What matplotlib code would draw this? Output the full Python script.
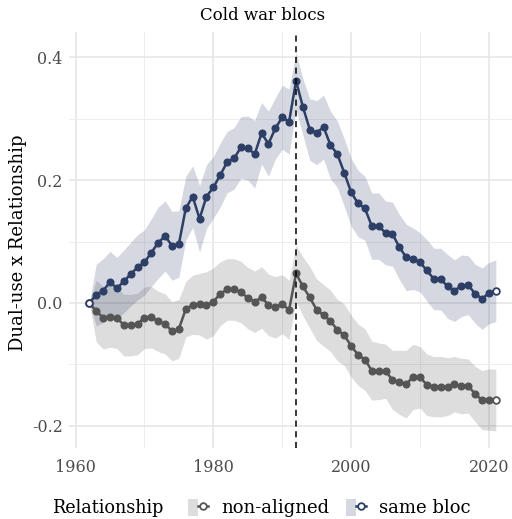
import matplotlib
matplotlib.use("Agg")
import matplotlib.pyplot as plt
import numpy as np
from matplotlib.patches import Patch
from matplotlib.lines import Line2D
from matplotlib.legend_handler import HandlerTuple

plt.rcParams['font.family'] = ['DejaVu Serif']

# --- data -------------------------------------------------------------
years = np.arange(1962, 2022)

same_bloc = np.array([
    0.000, 0.013, 0.020, 0.034, 0.024, 0.035, 0.047, 0.058, 0.066, 0.082,
    0.098, 0.109, 0.093, 0.096, 0.154, 0.173, 0.137, 0.173, 0.188, 0.208,
    0.229, 0.235, 0.253, 0.252, 0.242, 0.276, 0.259, 0.284, 0.302, 0.295,
    0.361, 0.319, 0.282, 0.277, 0.286, 0.257, 0.242, 0.212, 0.180, 0.162,
    0.154, 0.125, 0.125, 0.114, 0.112, 0.091, 0.074, 0.072, 0.066, 0.053,
    0.039, 0.039, 0.027, 0.020, 0.028, 0.029, 0.015, 0.007, 0.016, 0.020])

same_bloc_ci = np.array([
    0.000, 0.050, 0.052, 0.050, 0.050, 0.051, 0.052, 0.053, 0.053, 0.055,
    0.058, 0.057, 0.056, 0.054, 0.052, 0.050, 0.054, 0.052, 0.050, 0.052,
    0.050, 0.050, 0.050, 0.052, 0.055, 0.050, 0.053, 0.050, 0.052, 0.053,
    0.046, 0.046, 0.050, 0.052, 0.052, 0.055, 0.054, 0.055, 0.055, 0.054,
    0.052, 0.054, 0.054, 0.052, 0.052, 0.053, 0.054, 0.050, 0.048, 0.050,
    0.050, 0.050, 0.052, 0.050, 0.050, 0.048, 0.048, 0.050, 0.050, 0.050])

non_aligned = np.array([
    0.000, -0.013, -0.024, -0.022, -0.024, -0.036, -0.036, -0.034, -0.024, -0.023,
    -0.030, -0.034, -0.046, -0.042, -0.010, -0.003, -0.002, -0.004, 0.002, 0.015,
    0.022, 0.022, 0.018, 0.008, 0.002, 0.009, -0.003, -0.007, -0.002, -0.011,
    0.048, 0.027, 0.009, -0.011, -0.020, -0.029, -0.044, -0.052, -0.070, -0.084,
    -0.092, -0.110, -0.111, -0.111, -0.125, -0.129, -0.132, -0.120, -0.121, -0.133,
    -0.136, -0.136, -0.136, -0.132, -0.135, -0.135, -0.148, -0.158, -0.157, -0.158])

non_aligned_ci = np.array([
    0.000, 0.050, 0.051, 0.050, 0.050, 0.050, 0.050, 0.050, 0.050, 0.050,
    0.049, 0.049, 0.048, 0.048, 0.045, 0.048, 0.050, 0.055, 0.055, 0.052,
    0.050, 0.050, 0.050, 0.050, 0.050, 0.050, 0.050, 0.050, 0.048, 0.048,
    0.046, 0.048, 0.050, 0.050, 0.050, 0.050, 0.050, 0.050, 0.050, 0.050,
    0.050, 0.048, 0.046, 0.044, 0.048, 0.052, 0.055, 0.053, 0.050, 0.050,
    0.049, 0.049, 0.047, 0.045, 0.045, 0.044, 0.045, 0.048, 0.050, 0.050])

x_ticks = [1960, 1980, 2000, 2020]
y_ticks = [-0.2, 0.0, 0.2, 0.4]
y_tick_labels = ["-0.2", "0.0", "0.2", "0.4"]
break_year = 1992

grey = "#555555"
navy = "#2d3f66"

series = [
    ("non-aligned", non_aligned, non_aligned_ci, grey),
    ("same bloc", same_bloc, same_bloc_ci, navy),
]

# --- figure -----------------------------------------------------------
W, H = 512, 519
fig = plt.figure(figsize=(W / 100, H / 100), dpi=100)
ax = fig.add_axes([69 / W, (H - 448) / H, 443 / W, 416 / H])
ax.set_xlim(1959.05, 2023.35)
ax.set_ylim(-0.2358, 0.4407)

for name, vals, ci, color in series:
    ax.fill_between(years, vals - ci, vals + ci, color=color, alpha=0.2,
                    lw=0, zorder=1)

for name, vals, ci, color in series:
    ax.plot(years, vals, color=color, lw=1.8, zorder=3)
    ax.plot(years[1:-1], vals[1:-1], ls="none", marker="o", ms=4.8,
            mfc=color, mec=color, zorder=4)
    ends = [0, len(years) - 1]
    ax.plot(years[ends], vals[ends], ls="none", marker="o", ms=4.8,
            mfc="white", mec=color, mew=1.3, zorder=4)

ax.axvline(break_year, color="black", lw=1.1, ls=(0, (4, 3)), zorder=5)

# grid and axes styling
ax.set_xticks(x_ticks)
ax.set_xticks([1970, 1990, 2010], minor=True)
ax.set_yticks(y_ticks)
ax.set_yticklabels(y_tick_labels)
ax.set_yticks([-0.1, 0.1, 0.3], minor=True)
ax.grid(which="major", color="#E6E6E6", lw=1.2, zorder=0)
ax.grid(which="minor", color="#EDEDED", lw=0.7, zorder=0)
ax.set_axisbelow(True)
for s in ax.spines.values():
    s.set_visible(False)
ax.tick_params(which="both", length=0)
ax.tick_params(axis="x", pad=8, labelsize=11.5, labelcolor="#4D4D4D")
ax.tick_params(axis="y", pad=4.5, labelsize=11.5, labelcolor="#4D4D4D")

fig.text(263 / W, 1 - 15 / H, "Cold war blocs", ha="center", va="center",
         fontsize=12)
fig.text(18 / W, 1 - 243 / H, "Dual-use x Relationship", rotation=90,
         ha="center", va="center", fontsize=13)

# legend
fig.text(52 / W, 1 - 508 / H, "Relationship", ha="left", va="center",
         fontsize=12.7)
handles = []
for name, vals, ci, color in series:
    patch = Patch(facecolor=color, alpha=0.2, edgecolor="none")
    line = Line2D([], [], color=color, lw=1.8, marker="o", ms=4.8,
                  mfc="white", mec=color, mew=1.3)
    handles.append((patch, line))
fig.legend(handles, [s[0] for s in series], ncol=2, frameon=False,
           loc="center left", bbox_to_anchor=(188 / W, 1 - 508 / H),
           fontsize=13, handlelength=1.1, handleheight=1.1,
           handletextpad=0.72, columnspacing=0.95, borderpad=0,
           borderaxespad=0, numpoints=1,
           handler_map={tuple: HandlerTuple(ndivide=None, pad=0)})

fig.savefig("out.png", dpi=100)
